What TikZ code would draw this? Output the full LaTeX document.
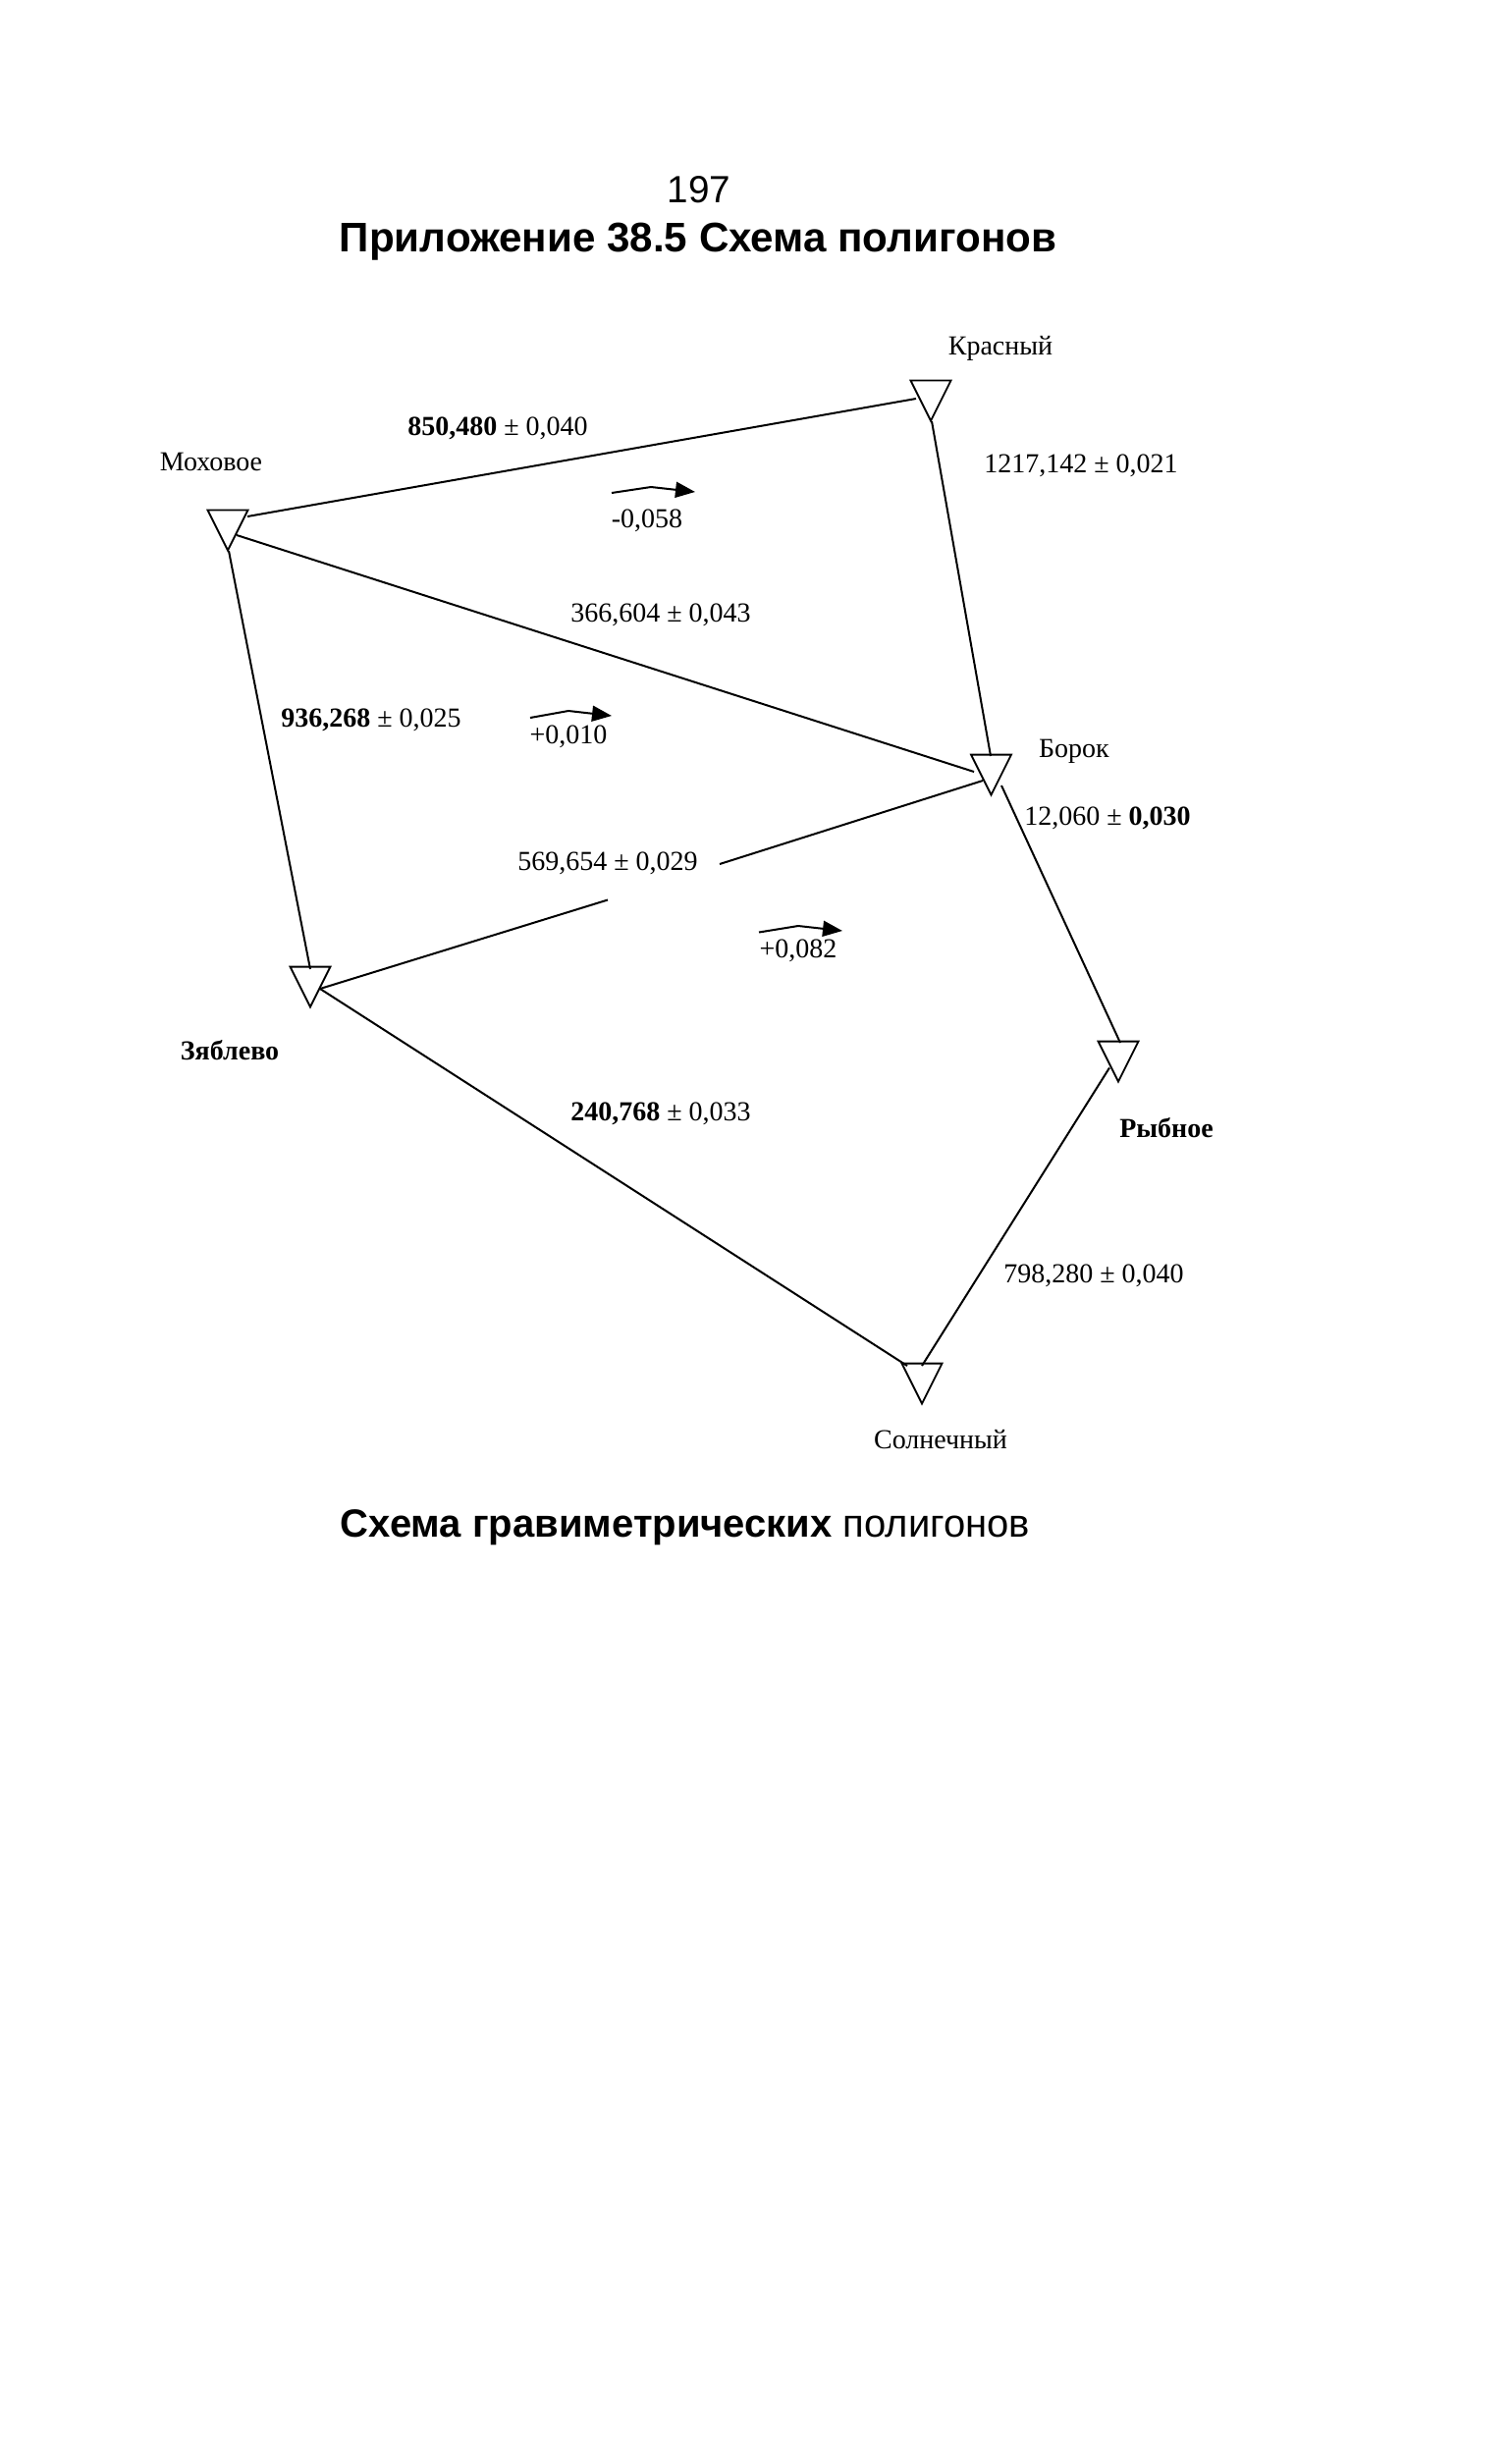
\documentclass[tikz,border=0pt]{standalone}
\usepackage{fontspec}
\setmainfont{Liberation Serif}
\newfontfamily\headfont{Liberation Sans}
\usetikzlibrary{shapes.geometric,arrows.meta}
\tikzset{
  x=0.75pt,y=-0.75pt,
  station/.style={draw=black,fill=white,line width=1.4pt,inner sep=0pt,isosceles triangle,isosceles triangle stretches,shape border rotate=-90,minimum width=30.75pt,minimum height=30.75pt,anchor=apex},
  link/.style={draw=black,line width=1.5pt},
  circuit/.style={draw=black,line width=1.5pt,-{Triangle[length=15pt,width=12pt]}},
  lbl/.style={inner sep=0pt,font=\fontsize{21}{24}\selectfont},
  head/.style={inner sep=0pt,font=\headfont\fontsize{29}{34}\selectfont}
}
\newcommand{\bdg}[1]{\textbf{#1}}
\begin{document}
\begin{tikzpicture}
\useasboundingbox[fill=white] (0,0) rectangle (1540,2483);
% stations
\node[station] (mox) at (232,563) {};
\node[station] (kra) at (948,431) {};
\node[station] (bor) at (1009.5,812) {};
\node[station] (zya) at (316,1028) {};
\node[station] (ryb) at (1139,1104) {};
\node[station] (sol) at (939,1432) {};
% connectors
\draw[link] ([shift={(20,-37)}]mox.apex) -- ([shift={(-15,-25)}]kra.apex);
\draw[link] ([shift={(1,-2)}]kra.apex) -- ([shift={(-0.5,-42)}]bor.apex);
\draw[link] ([shift={(9,-18)}]mox.apex) -- ([shift={(-17.5,-26)}]bor.apex);
\draw[link] ([shift={(1,-2)}]mox.apex) -- ([shift={(0,-41)}]zya.apex);
\coordinate (gapA) at (619,916.5);
\coordinate (gapB) at (733,880);
\draw[link] ([shift={(10,-21)}]zya.apex) -- (gapA);
\draw[link] (gapB) -- ([shift={(-8.5,-17)}]bor.apex);
\draw[link] ([shift={(10,-21)}]zya.apex) -- ([shift={(-15,-41)}]sol.apex);
\draw[link] ([shift={(10.5,-12)}]bor.apex) -- ([shift={(2,-42)}]ryb.apex);
\draw[link] ([shift={(-9,-16.5)}]ryb.apex) -- ([shift={(0,-41)}]sol.apex);
% circulation arrows
\coordinate (a1s) at (623,502);
\coordinate (a1m) at (663,496);
\coordinate (a1e) at (708,501);
\draw[circuit] (a1s) -- (a1m) -- (a1e);
\coordinate (a2s) at (540,731);
\coordinate (a2m) at (579,724);
\coordinate (a2e) at (623,729);
\draw[circuit] (a2s) -- (a2m) -- (a2e);
\coordinate (a3s) at (773,949.5);
\coordinate (a3m) at (813,943);
\coordinate (a3e) at (858,948);
\draw[circuit] (a3s) -- (a3m) -- (a3e);
% headings
\node[head] (t1) at (712,193) {197};
\node[head,font=\headfont\bfseries\fontsize{31.6}{36}\selectfont] (t2) at (711,246) {Приложение 38.5 Схема полигонов};
\node[head,font=\headfont\fontsize{30}{35}\selectfont] (t3) at (698,1556) {\textbf{Схема гравиметрических} полигонов};
% station names
\node[lbl] (n1) at (1019,355) {Красный};
\node[lbl] (n2) at (215,470) {Моховое};
\node[lbl] (n3) at (1094,765) {Борок};
\node[lbl] (n4) at (234,1070) {\textbf{Зяблево}};
\node[lbl] (n5) at (1188,1149) {\textbf{Рыбное}};
\node[lbl] (n6) at (958,1466) {Солнечный};
% values
\node[lbl] (v1) at (507,436) {\bdg{850,480} ± 0,040};
\node[lbl] (v2) at (1101,474) {1217,142 ± 0,021};
\node[lbl] (v3) at (673,626) {366,604 ± 0,043};
\node[lbl] (v4) at (378,733) {\bdg{936,268} ± 0,025};
\node[lbl] (v5) at (619,879) {569,654 ± 0,029};
\node[lbl] (v6) at (1128,833) {12,060 ± \bdg{0,030}};
\node[lbl] (v7) at (673,1134) {\bdg{240,768} ± 0,033};
\node[lbl] (v8) at (1114,1299) {798,280 ± 0,040};
\node[lbl] (c1) at (659,530) {-0,058};
\node[lbl] (c2) at (579,750) {+0,010};
\node[lbl] (c3) at (813,968) {+0,082};
\end{tikzpicture}
\end{document}
